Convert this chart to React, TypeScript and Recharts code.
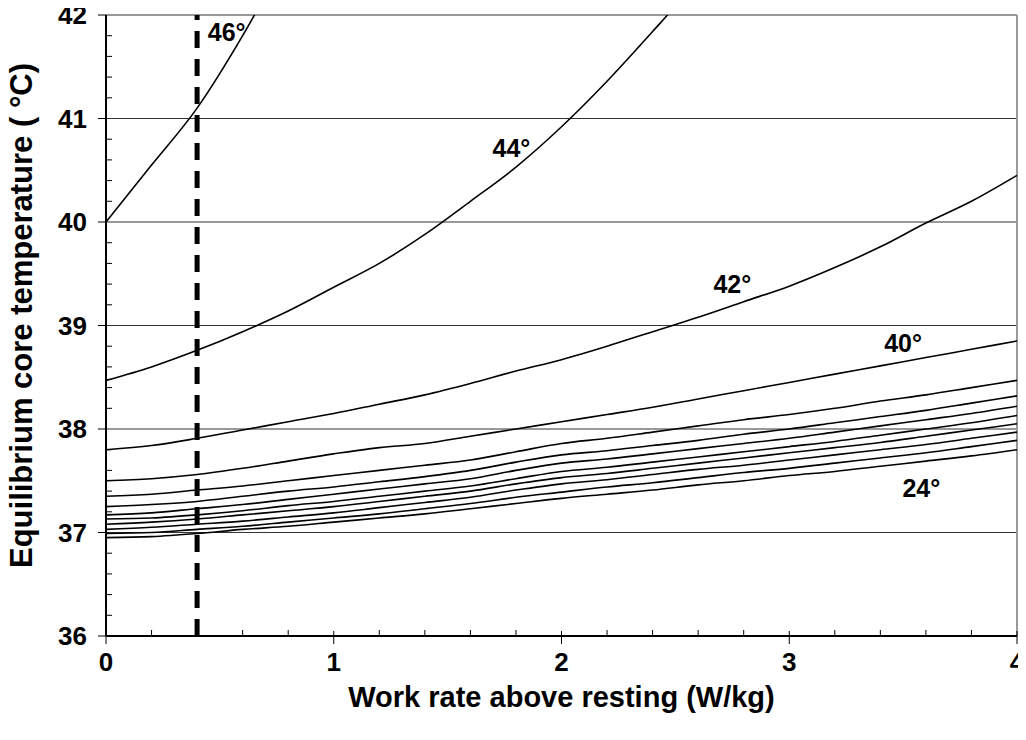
import { LineChart, Line, XAxis, YAxis, ReferenceLine, ReferenceDot } from "recharts"

// work rate (W/kg)
const xs = [0, 0.2, 0.4, 0.6, 0.8, 1, 1.2, 1.4, 1.6, 1.8, 2, 2.2, 2.4, 2.6, 2.8, 3, 3.2, 3.4, 3.6, 3.8, 4]

// equilibrium core temperature for each ambient temperature
const t46 = [40.0, 40.55, 41.1, 41.8, 42.6, null, null, null, null, null, null, null, null, null, null, null, null, null, null, null, null]
const t44 = [38.47, 38.6, 38.76, 38.94, 39.14, 39.37, 39.6, 39.88, 40.2, 40.53, 40.92, 41.36, 41.84, 42.34, 42.9, null, null, null, null, null, null]
const t42 = [37.8, 37.84, 37.91, 37.99, 38.07, 38.15, 38.24, 38.33, 38.44, 38.56, 38.67, 38.8, 38.94, 39.08, 39.23, 39.38, 39.56, 39.76, 39.99, 40.2, 40.45]
const t40 = [37.5, 37.52, 37.56, 37.62, 37.69, 37.76, 37.82, 37.86, 37.93, 38.0, 38.07, 38.14, 38.21, 38.29, 38.37, 38.45, 38.53, 38.61, 38.69, 38.77, 38.85]
const t38 = [37.35, 37.37, 37.41, 37.45, 37.5, 37.55, 37.6, 37.65, 37.7, 37.78, 37.86, 37.91, 37.97, 38.03, 38.09, 38.14, 38.2, 38.27, 38.33, 38.4, 38.47]
const t36 = [37.25, 37.27, 37.3, 37.35, 37.4, 37.44, 37.49, 37.54, 37.6, 37.68, 37.75, 37.79, 37.84, 37.89, 37.95, 38.0, 38.06, 38.12, 38.18, 38.25, 38.32]
const t34 = [37.17, 37.19, 37.23, 37.27, 37.32, 37.37, 37.42, 37.47, 37.52, 37.6, 37.67, 37.71, 37.76, 37.81, 37.86, 37.91, 37.97, 38.03, 38.09, 38.15, 38.22]
const t32 = [37.13, 37.14, 37.17, 37.21, 37.26, 37.3, 37.35, 37.4, 37.45, 37.52, 37.59, 37.63, 37.68, 37.73, 37.78, 37.83, 37.88, 37.94, 38.0, 38.06, 38.13]
const t30 = [37.08, 37.1, 37.13, 37.17, 37.21, 37.25, 37.3, 37.35, 37.4, 37.47, 37.53, 37.57, 37.62, 37.67, 37.72, 37.77, 37.82, 37.87, 37.93, 37.99, 38.05]
const t28 = [37.03, 37.05, 37.08, 37.11, 37.15, 37.19, 37.24, 37.29, 37.34, 37.41, 37.47, 37.51, 37.56, 37.61, 37.65, 37.7, 37.75, 37.8, 37.85, 37.91, 37.97]
const t26 = [36.99, 37.0, 37.03, 37.06, 37.1, 37.14, 37.18, 37.23, 37.28, 37.34, 37.39, 37.44, 37.48, 37.53, 37.58, 37.62, 37.67, 37.72, 37.77, 37.83, 37.89]
const t24 = [36.95, 36.96, 36.99, 37.03, 37.06, 37.1, 37.14, 37.18, 37.23, 37.28, 37.33, 37.37, 37.41, 37.46, 37.5, 37.55, 37.59, 37.64, 37.69, 37.74, 37.8]

const seriesKeys = ["t46", "t44", "t42", "t40", "t38", "t36", "t34", "t32", "t30", "t28", "t26", "t24"]
const seriesValues = [t46, t44, t42, t40, t38, t36, t34, t32, t30, t28, t26, t24]

const xTicks = [0, 0.2, 0.4, 0.6, 0.8, 1, 1.2, 1.4, 1.6, 1.8, 2, 2.2, 2.4, 2.6, 2.8, 3, 3.2, 3.4, 3.6, 3.8, 4]
const yTicks = [36, 36.2, 36.4, 36.6, 36.8, 37, 37.2, 37.4, 37.6, 37.8, 38, 38.2, 38.4, 38.6, 38.8, 39, 39.2, 39.4, 39.6, 39.8, 40, 40.2, 40.4, 40.6, 40.8, 41, 41.2, 41.4, 41.6, 41.8, 42]
const gridValues = [37, 38, 39, 40, 41]

// curve labels
const labelText = ["46°", "44°", "42°", "40°", "24°"]
const labelX = [0.53, 1.78, 2.75, 3.5, 3.58]
const labelY = [41.83, 40.71, 39.4, 38.83, 37.43]

const restingWork = 0.4

const data = xs.map((x, i) => {
  const row: Record<string, number | null> = { x }
  seriesKeys.forEach((k, j) => {
    row[k] = seriesValues[j][i]
  })
  return row
})

const FONT = "'Liberation Sans', Arial, Helvetica, sans-serif"

const isMajor = (v: number) => Math.abs(v - Math.round(v)) < 1e-6

const XTick = (props: any) => {
  const { x, y, payload } = props
  const v = payload.value
  if (!isMajor(v)) {
    return <line x1={x} x2={x} y1={y} y2={y - 6} stroke="#000" strokeWidth={1} />
  }
  return (
    <g>
      <line x1={x} x2={x} y1={y - 5} y2={y + 8} stroke="#000" strokeWidth={1} />
      <text x={x} y={y + 35} textAnchor="middle" fontSize={26} fontWeight="bold" fontFamily={FONT} fill="#000">
        {Math.round(v)}
      </text>
    </g>
  )
}

const YTick = (props: any) => {
  const { x, y, payload } = props
  const v = payload.value
  if (!isMajor(v)) {
    return <line x1={x} x2={x + 6} y1={y} y2={y} stroke="#000" strokeWidth={1} />
  }
  return (
    <g>
      <line x1={x - 8} x2={x} y1={y} y2={y} stroke="#000" strokeWidth={1} />
      <text x={x - 19} y={y + 9} textAnchor="end" fontSize={26} fontWeight="bold" fontFamily={FONT} fill="#000">
        {Math.round(v)}
      </text>
    </g>
  )
}

const XTitle = (props: any) => {
  const { x, y, width } = props.viewBox
  return (
    <text x={x + width / 2} y={y + 71} textAnchor="middle" fontSize={29} fontWeight="bold" fontFamily={FONT} fill="#000">
      Work rate above resting (W/kg)
    </text>
  )
}

const YTitle = (props: any) => {
  const { x, y, height } = props.viewBox
  return (
    <text
      transform={`translate(${x + 32},${y + height / 2 - 10}) rotate(-90)`}
      textAnchor="middle"
      fontSize={31}
      fontWeight="bold"
      fontFamily={FONT}
      fill="#000"
    >
      Equilibrium core temperature ( °C)
    </text>
  )
}

export default function App() {
  return (
    <div style={{ background: "#fff", width: 1026, height: 740, margin: -8, overflow: "hidden" }}>
      <LineChart width={1026} height={740} data={data} margin={{ top: 15, right: 9, left: 0, bottom: 0 }}>
        <XAxis
          dataKey="x"
          type="number"
          domain={[0, 4]}
          ticks={xTicks}
          interval={0}
          height={104}
          tickSize={0}
          tickMargin={0}
          tickLine={false}
          axisLine={{ stroke: "#000", strokeWidth: 2 }}
          tick={<XTick />}
          label={<XTitle />}
        />
        <YAxis
          type="number"
          domain={[36, 42]}
          ticks={yTicks}
          interval={0}
          allowDataOverflow
          width={106}
          tickSize={0}
          tickMargin={0}
          tickLine={false}
          axisLine={{ stroke: "#000", strokeWidth: 2 }}
          tick={<YTick />}
          label={<YTitle />}
        />
        {gridValues.map((g) => (
          <ReferenceLine key={g} y={g} stroke="#333" strokeWidth={1} />
        ))}
        <ReferenceLine y={42} stroke="#999" strokeWidth={2} />
        <ReferenceLine x={4} stroke="#999" strokeWidth={2} />
        {seriesKeys.map((k) => (
          <Line
            key={k}
            dataKey={k}
            type="monotone"
            stroke="#000"
            strokeWidth={1.6}
            dot={false}
            activeDot={false}
            isAnimationActive={false}
          />
        ))}
        <ReferenceLine x={restingWork} stroke="#000" strokeWidth={5} strokeDasharray="17 11" />
        {labelText.map((t, i) => (
          <ReferenceDot
            key={t}
            x={labelX[i]}
            y={labelY[i]}
            r={0}
            fill="none"
            stroke="none"
            label={{ value: t, position: "center", fontSize: 25, fontWeight: "bold", fill: "#000", fontFamily: FONT }}
          />
        ))}
      </LineChart>
    </div>
  )
}
